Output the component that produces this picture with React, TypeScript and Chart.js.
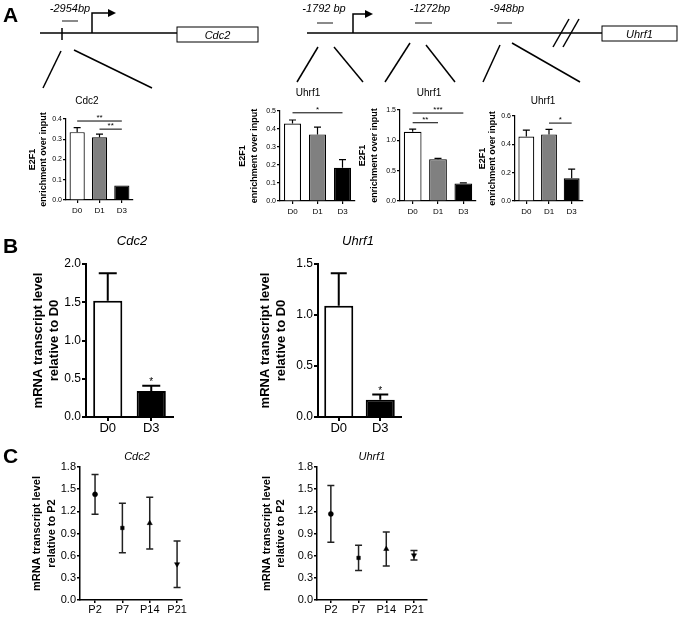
import React, { useEffect, useRef } from "react";
import { Chart, registerables } from "chart.js";
Chart.register(...registerables);

const FONT = 'Arial, "Liberation Sans", Helvetica, sans-serif';

// ---------- Panel A: E2F1 ChIP ----------
const chipDays = ["D0", "D1", "D3"];
const chipColors = ["#ffffff", "#808080", "#000000"];
const cdc2ChipMean = [0.335, 0.31, 0.072];
const cdc2ChipErr = [0.022, 0.015, 0];
const cdc2ChipSig = [
  { from: 0, to: 2, y: 0.39, label: "**" },
  { from: 1, to: 2, y: 0.35, label: "**" },
];
const uhrf1Chip1792Mean = [0.43, 0.37, 0.185];
const uhrf1Chip1792Err = [0.02, 0.04, 0.045];
const uhrf1Chip1792Sig = [{ from: 0, to: 2, y: 0.49, label: "*" }];
const uhrf1Chip1272Mean = [1.14, 0.69, 0.29];
const uhrf1Chip1272Err = [0.045, 0.012, 0.01];
const uhrf1Chip1272Sig = [
  { from: 0, to: 2, y: 1.45, label: "***" },
  { from: 0, to: 1, y: 1.29, label: "**" },
];
const uhrf1Chip948Mean = [0.455, 0.47, 0.16];
const uhrf1Chip948Err = [0.045, 0.035, 0.065];
const uhrf1Chip948Sig = [{ from: 1, to: 2, y: 0.55, label: "*" }];

// ---------- Panel B: mRNA D0 vs D3 ----------
const mrnaDays = ["D0", "D3"];
const mrnaColors = ["#ffffff", "#000000"];
const cdc2MrnaMean = [1.52, 0.34];
const cdc2MrnaErr = [0.36, 0.07];
const uhrf1MrnaMean = [1.09, 0.17];
const uhrf1MrnaErr = [0.32, 0.05];
const mrnaStars = [1];

// ---------- Panel C: mRNA by age ----------
const ages = ["P2", "P7", "P14", "P21"];
const cdc2AgeMean = [1.43, 0.975, 1.04, 0.485];
const cdc2AgeErr = [0.27, 0.335, 0.35, 0.315];
const uhrf1AgeMean = [1.165, 0.57, 0.69, 0.605];
const uhrf1AgeErr = [0.385, 0.17, 0.23, 0.065];
const ageMarkers = ["circle", "rect", "triangle", "triangle"];
const ageMarkerRot = [0, 0, 0, 180];

type Sig = { from: number; to: number; y: number; label: string };
type Spec = {
  key: string;
  kind: "bar" | "scatter";
  axisLeft: number; axisRight: number; yTop: number; yBottom: number;
  pad: { l: number; t: number; r: number; b: number };
  yMax: number; yStep: number;
  labels: string[]; means: number[]; errs: number[];
  colors?: string[]; barPct?: number; barBorder?: number;
  sigs?: Sig[]; sigSize?: number; stars?: number[]; starSize?: number;
  title: { text: string; x: number; y: number; size: number; italic: boolean };
  yTitle: { lines: string[]; dx: number[]; size: number };
  yTickSize: number; xTickSize: number;
  line: number; capW: number; tickLen: number; yPad: number; xPad: number;
  xMin?: number; xMax?: number;
};

const A_PAD = { l: 50, t: 40, r: 10, b: 22 };
const B_PAD = { l: 64, t: 40, r: 20, b: 26 };
const C_PAD = { l: 58, t: 25, r: 20, b: 18 };
const chipYTitle = ["E2F1", "enrichment over input"];

const specs: Spec[] = [
  {
    key: "a1", kind: "bar", axisLeft: 66, axisRight: 133, yTop: 119, yBottom: 200, pad: A_PAD,
    yMax: 0.4, yStep: 0.1, labels: chipDays, means: cdc2ChipMean, errs: cdc2ChipErr,
    colors: chipColors, barPct: 0.68, barBorder: 1.2, sigs: cdc2ChipSig, sigSize: 8,
    title: { text: "Cdc2", x: 87, y: 101, size: 10, italic: false },
    yTitle: { lines: chipYTitle, dx: [-33, -22], size: 9 },
    yTickSize: 7, xTickSize: 8, line: 1.2, capW: 7, tickLen: 3, yPad: 1, xPad: 3,
  },
  {
    key: "a2", kind: "bar", axisLeft: 280, axisRight: 355, yTop: 111, yBottom: 201, pad: A_PAD,
    yMax: 0.5, yStep: 0.1, labels: chipDays, means: uhrf1Chip1792Mean, errs: uhrf1Chip1792Err,
    colors: chipColors, barPct: 0.68, barBorder: 1.2, sigs: uhrf1Chip1792Sig, sigSize: 8,
    title: { text: "Uhrf1", x: 308, y: 93, size: 10, italic: false },
    yTitle: { lines: chipYTitle, dx: [-37, -25], size: 9 },
    yTickSize: 7, xTickSize: 8, line: 1.2, capW: 7, tickLen: 3, yPad: 1, xPad: 3,
  },
  {
    key: "a3", kind: "bar", axisLeft: 400, axisRight: 476, yTop: 110, yBottom: 201, pad: A_PAD,
    yMax: 1.5, yStep: 0.5, labels: chipDays, means: uhrf1Chip1272Mean, errs: uhrf1Chip1272Err,
    colors: chipColors, barPct: 0.7, barBorder: 1.2, sigs: uhrf1Chip1272Sig, sigSize: 8,
    title: { text: "Uhrf1", x: 429, y: 93, size: 10, italic: false },
    yTitle: { lines: chipYTitle, dx: [-37, -25], size: 9 },
    yTickSize: 7, xTickSize: 8, line: 1.2, capW: 7, tickLen: 3, yPad: 1, xPad: 3,
  },
  {
    key: "a4", kind: "bar", axisLeft: 515, axisRight: 583, yTop: 116, yBottom: 201, pad: A_PAD,
    yMax: 0.6, yStep: 0.2, labels: chipDays, means: uhrf1Chip948Mean, errs: uhrf1Chip948Err,
    colors: chipColors, barPct: 0.7, barBorder: 1.2, sigs: uhrf1Chip948Sig, sigSize: 8,
    title: { text: "Uhrf1", x: 543, y: 101, size: 10, italic: false },
    yTitle: { lines: chipYTitle, dx: [-32, -22], size: 9 },
    yTickSize: 7, xTickSize: 8, line: 1.2, capW: 7, tickLen: 3, yPad: 1, xPad: 3,
  },
  {
    key: "b1", kind: "bar", axisLeft: 86, axisRight: 173, yTop: 264, yBottom: 417, pad: B_PAD,
    yMax: 2.0, yStep: 0.5, labels: mrnaDays, means: cdc2MrnaMean, errs: cdc2MrnaErr,
    colors: mrnaColors, barPct: 0.67, barBorder: 2, stars: mrnaStars, starSize: 10,
    title: { text: "Cdc2", x: 132, y: 241, size: 13, italic: true },
    yTitle: { lines: ["mRNA transcript level", "relative to D0"], dx: [-48, -32], size: 13 },
    yTickSize: 12, xTickSize: 13, line: 2, capW: 18, tickLen: 4, yPad: 1, xPad: 0,
  },
  {
    key: "b2", kind: "bar", axisLeft: 318, axisRight: 401, yTop: 264, yBottom: 417, pad: B_PAD,
    yMax: 1.5, yStep: 0.5, labels: mrnaDays, means: uhrf1MrnaMean, errs: uhrf1MrnaErr,
    colors: mrnaColors, barPct: 0.7, barBorder: 2, stars: mrnaStars, starSize: 10,
    title: { text: "Uhrf1", x: 358, y: 241, size: 13, italic: true },
    yTitle: { lines: ["mRNA transcript level", "relative to D0"], dx: [-53, -37], size: 13 },
    yTickSize: 12, xTickSize: 13, line: 2, capW: 16, tickLen: 4, yPad: 1, xPad: 0,
  },
  {
    key: "c1", kind: "scatter", axisLeft: 80, axisRight: 182, yTop: 467, yBottom: 600, pad: C_PAD,
    yMax: 1.8, yStep: 0.3, labels: ages, means: cdc2AgeMean, errs: cdc2AgeErr, xMin: 0.45, xMax: 4.18,
    title: { text: "Cdc2", x: 137, y: 457, size: 11, italic: true },
    yTitle: { lines: ["mRNA transcript level", "relative to P2"], dx: [-43, -28], size: 11 },
    yTickSize: 11, xTickSize: 11, line: 1.5, capW: 7, tickLen: 3, yPad: 1, xPad: 0,
  },
  {
    key: "c2", kind: "scatter", axisLeft: 317, axisRight: 427, yTop: 467, yBottom: 600, pad: C_PAD,
    yMax: 1.8, yStep: 0.3, labels: ages, means: uhrf1AgeMean, errs: uhrf1AgeErr, xMin: 0.5, xMax: 4.47,
    title: { text: "Uhrf1", x: 372, y: 457, size: 11, italic: true },
    yTitle: { lines: ["mRNA transcript level", "relative to P2"], dx: [-50, -36], size: 11 },
    yTickSize: 11, xTickSize: 11, line: 1.5, capW: 7, tickLen: 3, yPad: 1, xPad: 0,
  },
];

function font(size: number, bold = false, italic = false) {
  return `${italic ? "italic " : ""}${bold ? "bold " : ""}${size}px ${FONT}`;
}

function makePlugin(spec: Spec, left: number, top: number) {
  const drawErr = (chart: any) => {
    const ctx = chart.ctx;
    const xs = chart.scales.x;
    const ys = chart.scales.y;
    ctx.save();
    ctx.strokeStyle = spec.kind === "bar" ? "#000" : "#222";
    ctx.lineWidth = spec.line;
    spec.means.forEach((m, i) => {
      const e = spec.errs[i];
      if (!e) return;
      const px = spec.kind === "bar" ? xs.getPixelForValue(i) : xs.getPixelForValue(i + 1);
      const yHi = ys.getPixelForValue(m + e);
      const yLo = spec.kind === "bar" ? ys.getPixelForValue(m) : ys.getPixelForValue(m - e);
      ctx.beginPath();
      ctx.moveTo(px, yLo);
      ctx.lineTo(px, yHi);
      ctx.moveTo(px - spec.capW / 2, yHi);
      ctx.lineTo(px + spec.capW / 2, yHi);
      if (spec.kind === "scatter") {
        ctx.moveTo(px - spec.capW / 2, yLo);
        ctx.lineTo(px + spec.capW / 2, yLo);
      }
      ctx.stroke();
    });
    ctx.restore();
  };
  return {
    id: "annot_" + spec.key,
    beforeDatasetsDraw(chart: any) {
      if (spec.kind === "scatter") drawErr(chart);
    },
    afterDatasetsDraw(chart: any) {
      if (spec.kind === "bar") drawErr(chart);
      const ctx = chart.ctx;
      const xs = chart.scales.x;
      const ys = chart.scales.y;
      ctx.save();
      ctx.fillStyle = "#000";
      ctx.strokeStyle = "#000";
      ctx.lineWidth = 1;
      (spec.sigs || []).forEach((s) => {
        const x1 = xs.getPixelForValue(s.from);
        const x2 = xs.getPixelForValue(s.to);
        const y = ys.getPixelForValue(s.y);
        ctx.beginPath();
        ctx.moveTo(x1, y);
        ctx.lineTo(x2, y);
        ctx.stroke();
        ctx.font = font(spec.sigSize || 8);
        ctx.textAlign = "center";
        ctx.textBaseline = "alphabetic";
        ctx.fillText(s.label, (x1 + x2) / 2, y - 1);
      });
      (spec.stars || []).forEach((i) => {
        const px = xs.getPixelForValue(i);
        const y = ys.getPixelForValue(spec.means[i] + spec.errs[i]);
        ctx.font = font(spec.starSize || 10);
        ctx.textAlign = "center";
        ctx.textBaseline = "alphabetic";
        ctx.fillText("*", px, y - 1);
      });
      ctx.restore();
    },
    afterDraw(chart: any) {
      const ctx = chart.ctx;
      const area = chart.chartArea;
      ctx.save();
      ctx.fillStyle = "#000";
      ctx.textAlign = "center";
      ctx.textBaseline = "middle";
      ctx.font = font(spec.title.size, false, spec.title.italic);
      ctx.fillText(spec.title.text, spec.title.x - left, spec.title.y - top);
      const cy = (area.top + area.bottom) / 2;
      ctx.font = font(spec.yTitle.size, true);
      spec.yTitle.lines.forEach((ln, k) => {
        ctx.save();
        ctx.translate(area.left + spec.yTitle.dx[k], cy);
        ctx.rotate(-Math.PI / 2);
        ctx.fillText(ln, 0, 0);
        ctx.restore();
      });
      ctx.restore();
    },
  };
}

function ChartBox({ spec }: { spec: Spec }) {
  const ref = useRef<HTMLCanvasElement>(null);
  const left = spec.axisLeft - spec.pad.l;
  const top = spec.yTop - spec.pad.t;
  const width = spec.axisRight - spec.axisLeft + spec.pad.l + spec.pad.r;
  const height = spec.yBottom - spec.yTop + spec.pad.t + spec.pad.b;

  useEffect(() => {
    if (!ref.current) return;
    const gridCommon = {
      display: true,
      drawOnChartArea: false,
      drawTicks: true,
      tickLength: spec.tickLen,
      color: "#000",
      lineWidth: spec.line,
    };
    const border = { display: true, color: "#000", width: spec.line };
    const yScale: any = {
      type: "linear",
      min: 0,
      max: spec.yMax,
      grid: gridCommon,
      border,
      ticks: {
        stepSize: spec.yStep,
        color: "#000",
        font: { family: FONT, size: spec.yTickSize },
        padding: spec.yPad,
        callback: (v: any) => Number(v).toFixed(1),
      },
      afterFit: (s: any) => { s.width = spec.pad.l; },
    };
    let xScale: any;
    let data: any;
    let type: any;
    if (spec.kind === "bar") {
      type = "bar";
      xScale = {
        type: "category",
        offset: true,
        grid: { ...gridCommon, offset: false },
        border,
        ticks: {
          color: "#000",
          font: { family: FONT, size: spec.xTickSize },
          padding: spec.xPad,
          autoSkip: false,
          maxRotation: 0,
        },
        afterFit: (s: any) => { s.height = spec.pad.b; },
      };
      data = {
        labels: spec.labels,
        datasets: [
          {
            data: spec.means,
            backgroundColor: spec.colors,
            borderColor: "#000",
            borderWidth: spec.barBorder,
            barPercentage: spec.barPct,
            categoryPercentage: 1,
          },
        ],
      };
    } else {
      type = "scatter";
      xScale = {
        type: "linear",
        min: spec.xMin,
        max: spec.xMax,
        grid: gridCommon,
        border,
        afterBuildTicks: (s: any) => {
          s.ticks = spec.labels.map((_, i) => ({ value: i + 1 }));
        },
        ticks: {
          color: "#000",
          font: { family: FONT, size: spec.xTickSize },
          padding: spec.xPad,
          autoSkip: false,
          maxRotation: 0,
          callback: (v: any) => spec.labels[Math.round(v) - 1] ?? "",
        },
        afterFit: (s: any) => { s.height = spec.pad.b; },
      };
      data = {
        datasets: [
          {
            data: spec.means.map((m, i) => ({ x: i + 1, y: m })),
            pointStyle: ageMarkers,
            rotation: ageMarkerRot,
            pointRadius: [2.5, 2.5, 3, 3],
            backgroundColor: "#000",
            borderColor: "#000",
            borderWidth: 0.5,
            showLine: false,
          },
        ],
      };
    }
    const chart = new Chart(ref.current, {
      type,
      data,
      options: {
        responsive: false,
        animation: false,
        events: [],
        layout: { padding: { top: spec.pad.t, right: spec.pad.r, left: 0, bottom: 0 } },
        plugins: { legend: { display: false }, tooltip: { enabled: false }, title: { display: false } },
        scales: { x: xScale, y: yScale },
      } as any,
      plugins: [makePlugin(spec, left, top) as any],
    });
    return () => chart.destroy();
  }, []);

  return (
    <canvas
      ref={ref}
      width={width}
      height={height}
      style={{ position: "absolute", left, top, width, height }}
    />
  );
}

function Diagram() {
  const t = { fontFamily: FONT, fontStyle: "italic" as const, fontSize: 11 };
  const k = { stroke: "#000", strokeWidth: 1.5 };
  const g = { stroke: "#8a8a8a", strokeWidth: 2 };
  return (
    <svg
      width={682}
      height={617}
      style={{ position: "absolute", left: 0, top: 0, pointerEvents: "none" }}
    >
      <text x={3} y={22} fontFamily={FONT} fontWeight="bold" fontSize={21}>A</text>
      <text x={3} y={253} fontFamily={FONT} fontWeight="bold" fontSize={21}>B</text>
      <text x={3} y={463} fontFamily={FONT} fontWeight="bold" fontSize={21}>C</text>

      {/* Cdc2 locus */}
      <line x1={40} y1={33} x2={177} y2={33} {...k} />
      <rect x={177} y={27} width={81} height={15} fill="#fff" stroke="#000" strokeWidth={1} />
      <text x={217.5} y={38.5} textAnchor="middle" {...t}>Cdc2</text>
      <text x={70} y={12} textAnchor="middle" {...t}>-2954bp</text>
      <line x1={62} y1={21} x2={78} y2={21} {...g} />
      <line x1={62} y1={28} x2={62} y2={40} {...k} />
      <polyline points="92,33 92,13 109,13" fill="none" {...k} />
      <polygon points="108,9 116,13 108,17" fill="#000" />
      <line x1={61} y1={51} x2={43} y2={88} {...k} />
      <line x1={74} y1={50} x2={152} y2={88} {...k} />

      {/* Uhrf1 locus */}
      <line x1={307} y1={33} x2={602} y2={33} {...k} />
      <rect x={602} y={26} width={75} height={15} fill="#fff" stroke="#000" strokeWidth={1} />
      <text x={639.5} y={37.5} textAnchor="middle" {...t}>Uhrf1</text>
      <text x={324} y={12} textAnchor="middle" {...t}>-1792 bp</text>
      <line x1={317} y1={23} x2={333} y2={23} {...g} />
      <polyline points="353,33 353,14 366,14" fill="none" {...k} />
      <polygon points="365,10 373,14 365,18" fill="#000" />
      <text x={430} y={12} textAnchor="middle" {...t}>-1272bp</text>
      <line x1={415} y1={23} x2={432} y2={23} {...g} />
      <text x={507} y={12} textAnchor="middle" {...t}>-948bp</text>
      <line x1={497} y1={23} x2={512} y2={23} {...g} />
      <line x1={553} y1={47} x2={569} y2={19} {...k} />
      <line x1={563} y1={47} x2={579} y2={19} {...k} />
      <line x1={318} y1={47} x2={297} y2={82} {...k} />
      <line x1={334} y1={47} x2={363} y2={82} {...k} />
      <line x1={410} y1={43} x2={385} y2={82} {...k} />
      <line x1={426} y1={45} x2={455} y2={82} {...k} />
      <line x1={500} y1={45} x2={483} y2={82} {...k} />
      <line x1={512} y1={43} x2={580} y2={82} {...k} />
    </svg>
  );
}

export default function App() {
  return (
    <div
      style={{
        position: "absolute",
        left: 0,
        top: 0,
        width: 682,
        height: 617,
        background: "#fff",
        overflow: "hidden",
      }}
    >
      {specs.map((s) => (
        <ChartBox key={s.key} spec={s} />
      ))}
      <Diagram />
    </div>
  );
}
